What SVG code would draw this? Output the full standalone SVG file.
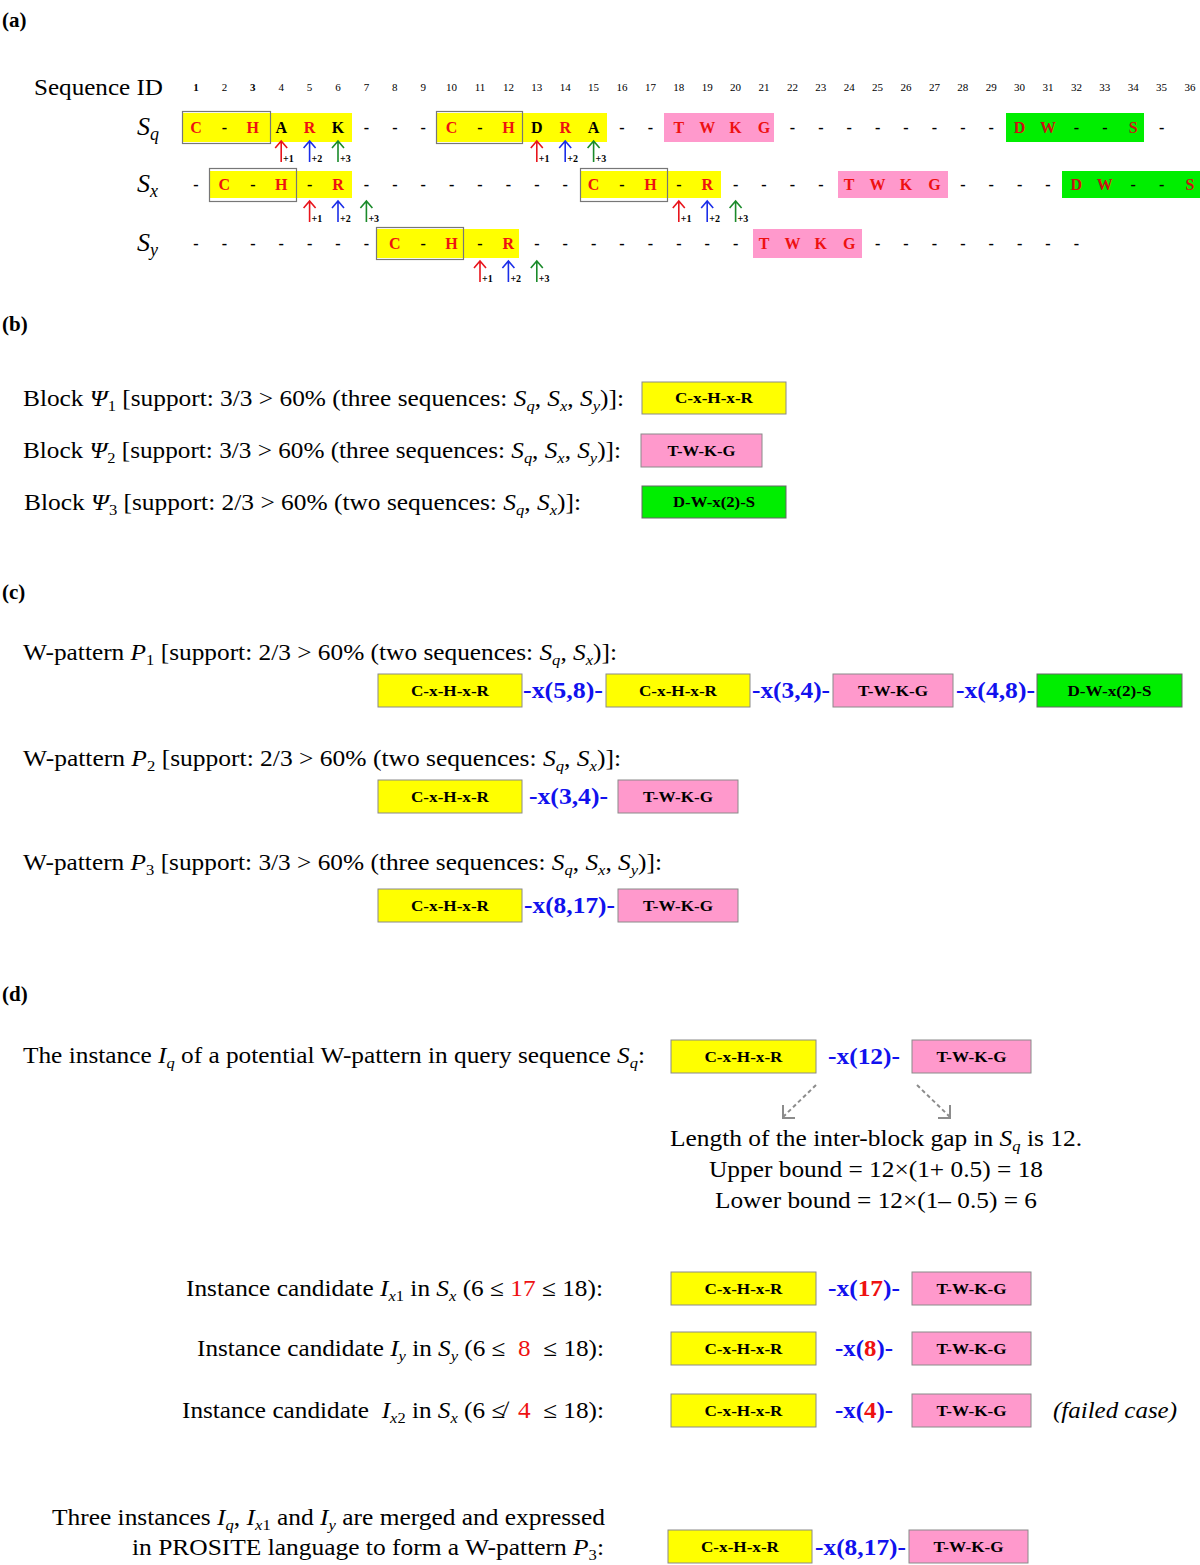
<svg xmlns="http://www.w3.org/2000/svg" xmlns:xlink="http://www.w3.org/1999/xlink" width="1200" height="1565" viewBox="0 0 1200 1565">
<style>
text { font-family: "Liberation Serif", "DejaVu Serif", serif; fill: #000; }
.t { font-size: 23px; }
.sec { font-size: 21px; font-weight: bold; }
.num { font-size: 11px; text-anchor: middle; }
.seq { font-size: 16px; font-weight: bold; text-anchor: middle; }
.red { fill: #ee1111; }
.gred { fill: #cc1111; }
.lab { font-size: 26px; font-style: italic; }
.pl { font-size: 10px; font-weight: bold; }
.bx { font-size: 14px; font-weight: bold; text-anchor: middle; }
.gap { font-size: 24px; font-weight: bold; fill: #1111ee; }
.yb { fill: #ffff00; stroke: #8a8a8a; stroke-width: 1; }
.pb { fill: #ff99cc; stroke: #8a8a8a; stroke-width: 1; }
.gb { fill: #00ee00; stroke: #666; stroke-width: 1; }
.ya { fill: #ffff00; }
.pa { fill: #ff99cc; }
.ga { fill: #00ee00; }
.ol { fill: none; stroke: #777; stroke-width: 1.2; }
.it { font-style: italic; }
</style>
<defs>
<path id="ar" d="M0,0 V-21 M-6,-14 L0,-21 L6,-14" fill="none" stroke-width="1.6"/>
</defs>

<!-- Section labels -->
<text class="sec" x="2" y="27">(a)</text>
<text class="sec" x="2" y="331">(b)</text>
<text class="sec" x="2" y="599">(c)</text>
<text class="sec" x="2" y="1001">(d)</text>

<!-- (a) -->
<g id="seq-header">
<text class="t" x="34" y="95" font-size="24" textLength="129" lengthAdjust="spacingAndGlyphs">Sequence ID</text>
<text class="num" y="91"><tspan x="196" font-weight="bold">1</tspan><tspan x="224.4">2</tspan><tspan x="252.8" font-weight="bold">3</tspan><tspan x="281.2">4</tspan><tspan x="309.6">5</tspan><tspan x="338">6</tspan><tspan x="366.4">7</tspan><tspan x="394.8">8</tspan><tspan x="423.2">9</tspan><tspan x="451.6">10</tspan><tspan x="480">11</tspan><tspan x="508.4">12</tspan><tspan x="536.8">13</tspan><tspan x="565.2">14</tspan><tspan x="593.6">15</tspan><tspan x="622">16</tspan><tspan x="650.4">17</tspan><tspan x="678.8">18</tspan><tspan x="707.2">19</tspan><tspan x="735.6">20</tspan><tspan x="764">21</tspan><tspan x="792.4">22</tspan><tspan x="820.8">23</tspan><tspan x="849.2">24</tspan><tspan x="877.6">25</tspan><tspan x="906">26</tspan><tspan x="934.4">27</tspan><tspan x="962.8">28</tspan><tspan x="991.2">29</tspan><tspan x="1019.6">30</tspan><tspan x="1048">31</tspan><tspan x="1076.4">32</tspan><tspan x="1104.8">33</tspan><tspan x="1133.2">34</tspan><tspan x="1161.6">35</tspan><tspan x="1190">36</tspan></text>
</g>

<g id="row-Sq">
<text class="lab" x="137" y="135">S<tspan dy="5" font-size="18">q</tspan></text>
<rect class="ya" x="183" y="113" width="169" height="29"/>
<rect class="ol" x="182.5" y="111.5" width="88" height="32"/>
<rect class="ya" x="437" y="113" width="170" height="29"/>
<rect class="ol" x="436.5" y="111.5" width="86" height="32"/>
<rect class="pa" x="664" y="113" width="110" height="29"/>
<rect class="ga" x="1006" y="113" width="138" height="29"/>
<text class="seq" y="133"><tspan class="red" x="196">C</tspan><tspan x="224.4">-</tspan><tspan class="red" x="252.8">H</tspan><tspan x="281.2">A</tspan><tspan class="red" x="309.6">R</tspan><tspan x="338 366.4 394.8 423.2">K---</tspan><tspan class="red" x="451.6">C</tspan><tspan x="480">-</tspan><tspan class="red" x="508.4">H</tspan><tspan x="536.8">D</tspan><tspan class="red" x="565.2">R</tspan><tspan x="593.6 622 650.4">A--</tspan><tspan class="red" x="678.8 707.2 735.6 764">TWKG</tspan><tspan x="792.4 820.8 849.2 877.6 906 934.4 962.8 991.2">--------</tspan><tspan class="gred" x="1019.6 1048">DW</tspan><tspan x="1076.4 1104.8">--</tspan><tspan class="gred" x="1133.2">S</tspan><tspan x="1161.6">-</tspan></text>
<use xlink:href="#ar" x="281.2" y="162" stroke="#e8141c"/>
<use xlink:href="#ar" x="309.6" y="162" stroke="#1b2ee8"/>
<use xlink:href="#ar" x="338" y="162" stroke="#1a8a2a"/>
<text class="pl" y="162"><tspan x="283">+1</tspan><tspan x="311.5">+2</tspan><tspan x="340">+3</tspan></text>
<use xlink:href="#ar" x="536.8" y="162" stroke="#e8141c"/>
<use xlink:href="#ar" x="565.2" y="162" stroke="#1b2ee8"/>
<use xlink:href="#ar" x="593.6" y="162" stroke="#1a8a2a"/>
<text class="pl" y="162"><tspan x="538.8">+1</tspan><tspan x="567.2">+2</tspan><tspan x="595.6">+3</tspan></text>
</g>

<g id="row-Sx">
<text class="lab" x="137" y="192">S<tspan dy="5" font-size="18">x</tspan></text>
<rect class="ya" x="210" y="171" width="142" height="27"/>
<rect class="ol" x="209.5" y="168.5" width="87" height="33"/>
<rect class="ya" x="581" y="171" width="140" height="27"/>
<rect class="ol" x="580.5" y="168.5" width="87" height="33"/>
<rect class="pa" x="838" y="171" width="110" height="27"/>
<rect class="ga" x="1062" y="171" width="138" height="27"/>
<text class="seq" y="190"><tspan x="196">-</tspan><tspan class="red" x="224.4">C</tspan><tspan x="252.8">-</tspan><tspan class="red" x="281.2">H</tspan><tspan x="309.6">-</tspan><tspan class="red" x="338">R</tspan><tspan x="366.4 394.8 423.2 451.6 480 508.4 536.8 565.2">--------</tspan><tspan class="red" x="593.6">C</tspan><tspan x="622">-</tspan><tspan class="red" x="650.4">H</tspan><tspan x="678.8">-</tspan><tspan class="red" x="707.2">R</tspan><tspan x="735.6 764 792.4 820.8">----</tspan><tspan class="red" x="849.2 877.6 906 934.4">TWKG</tspan><tspan x="962.8 991.2 1019.6 1048">----</tspan><tspan class="gred" x="1076.4 1104.8">DW</tspan><tspan x="1133.2 1161.6">--</tspan><tspan class="gred" x="1190">S</tspan></text>
<use xlink:href="#ar" x="309.6" y="222" stroke="#e8141c"/>
<use xlink:href="#ar" x="338" y="222" stroke="#1b2ee8"/>
<use xlink:href="#ar" x="366.4" y="222" stroke="#1a8a2a"/>
<text class="pl" y="222"><tspan x="311.6">+1</tspan><tspan x="340">+2</tspan><tspan x="368.4">+3</tspan></text>
<use xlink:href="#ar" x="678.8" y="222" stroke="#e8141c"/>
<use xlink:href="#ar" x="707.2" y="222" stroke="#1b2ee8"/>
<use xlink:href="#ar" x="735.6" y="222" stroke="#1a8a2a"/>
<text class="pl" y="222"><tspan x="680.8">+1</tspan><tspan x="709.2">+2</tspan><tspan x="737.6">+3</tspan></text>
</g>

<g id="row-Sy">
<text class="lab" x="137" y="251">S<tspan dy="5" font-size="18">y</tspan></text>
<rect class="ya" x="377" y="229" width="142" height="29"/>
<rect class="ol" x="376.5" y="227.5" width="87" height="32"/>
<rect class="pa" x="753" y="229" width="109" height="29"/>
<text class="seq" y="249"><tspan x="196 224.4 252.8 281.2 309.6 338 366.4">-------</tspan><tspan class="red" x="394.8">C</tspan><tspan x="423.2">-</tspan><tspan class="red" x="451.6">H</tspan><tspan x="480">-</tspan><tspan class="red" x="508.4">R</tspan><tspan x="536.8 565.2 593.6 622 650.4 678.8 707.2 735.6">--------</tspan><tspan class="red" x="764 792.4 820.8 849.2">TWKG</tspan><tspan x="877.6 906 934.4 962.8 991.2 1019.6 1048 1076.4">--------</tspan></text>
<use xlink:href="#ar" x="480" y="282" stroke="#e8141c"/>
<use xlink:href="#ar" x="508.4" y="282" stroke="#1b2ee8"/>
<use xlink:href="#ar" x="536.8" y="282" stroke="#1a8a2a"/>
<text class="pl" y="282"><tspan x="482">+1</tspan><tspan x="510.4">+2</tspan><tspan x="538.8">+3</tspan></text>
</g>

<!-- (b) -->
<g id="block1">
<text class="t" x="23" y="406" textLength="601" lengthAdjust="spacingAndGlyphs">Block <tspan class="it">Ψ</tspan><tspan dy="5" font-size="15">1</tspan><tspan dy="-5"> [support: 3/3 &gt; 60% (three sequences: </tspan><tspan class="it">S</tspan><tspan dy="5" font-size="15" class="it">q</tspan><tspan dy="-5">, </tspan><tspan class="it">S</tspan><tspan dy="5" font-size="15" class="it">x</tspan><tspan dy="-5">, </tspan><tspan class="it">S</tspan><tspan dy="5" font-size="15" class="it">y</tspan><tspan dy="-5">)]:</tspan></text>
<rect class="yb" x="642" y="382" width="144" height="32"/>
<text class="bx" x="714" y="403" textLength="78" lengthAdjust="spacingAndGlyphs">C-x-H-x-R</text>
</g>
<g id="block2">
<text class="t" x="23" y="458" textLength="598" lengthAdjust="spacingAndGlyphs">Block <tspan class="it">Ψ</tspan><tspan dy="5" font-size="15">2</tspan><tspan dy="-5"> [support: 3/3 &gt; 60% (three sequences: </tspan><tspan class="it">S</tspan><tspan dy="5" font-size="15" class="it">q</tspan><tspan dy="-5">, </tspan><tspan class="it">S</tspan><tspan dy="5" font-size="15" class="it">x</tspan><tspan dy="-5">, </tspan><tspan class="it">S</tspan><tspan dy="5" font-size="15" class="it">y</tspan><tspan dy="-5">)]:</tspan></text>
<rect class="pb" x="641" y="434" width="121" height="33"/>
<text class="bx" x="701.5" y="456" textLength="68" lengthAdjust="spacingAndGlyphs">T-W-K-G</text>
</g>
<g id="block3">
<text class="t" x="24" y="510" textLength="557" lengthAdjust="spacingAndGlyphs">Block <tspan class="it">Ψ</tspan><tspan dy="5" font-size="15">3</tspan><tspan dy="-5"> [support: 2/3 &gt; 60% (two sequences: </tspan><tspan class="it">S</tspan><tspan dy="5" font-size="15" class="it">q</tspan><tspan dy="-5">, </tspan><tspan class="it">S</tspan><tspan dy="5" font-size="15" class="it">x</tspan><tspan dy="-5">)]:</tspan></text>
<rect class="gb" x="642" y="486" width="144" height="32"/>
<text class="bx" x="714" y="507" textLength="82" lengthAdjust="spacingAndGlyphs">D-W-x(2)-S</text>
</g>

<!-- (c) -->
<g id="pattern1">
<text class="t" x="23" y="660" textLength="594" lengthAdjust="spacingAndGlyphs">W-pattern <tspan class="it">P</tspan><tspan dy="5" font-size="15">1</tspan><tspan dy="-5"> [support: 2/3 &gt; 60% (two sequences: </tspan><tspan class="it">S</tspan><tspan dy="5" font-size="15" class="it">q</tspan><tspan dy="-5">, </tspan><tspan class="it">S</tspan><tspan dy="5" font-size="15" class="it">x</tspan><tspan dy="-5">)]:</tspan></text>
<rect class="yb" x="378" y="674" width="144" height="33"/>
<text class="bx" x="450" y="696" textLength="78" lengthAdjust="spacingAndGlyphs">C-x-H-x-R</text>
<text class="gap" x="523" y="698" textLength="80" lengthAdjust="spacingAndGlyphs">-x(5,8)-</text>
<rect class="yb" x="606" y="674" width="144" height="33"/>
<text class="bx" x="678" y="696" textLength="78" lengthAdjust="spacingAndGlyphs">C-x-H-x-R</text>
<text class="gap" x="752" y="698" textLength="78" lengthAdjust="spacingAndGlyphs">-x(3,4)-</text>
<rect class="pb" x="833" y="674" width="120" height="33"/>
<text class="bx" x="893" y="696" textLength="70" lengthAdjust="spacingAndGlyphs">T-W-K-G</text>
<text class="gap" x="956" y="698" textLength="79" lengthAdjust="spacingAndGlyphs">-x(4,8)-</text>
<rect class="gb" x="1037" y="674" width="145" height="33"/>
<text class="bx" x="1109.5" y="696" textLength="84" lengthAdjust="spacingAndGlyphs">D-W-x(2)-S</text>
</g>
<g id="pattern2">
<text class="t" x="23" y="766" textLength="598" lengthAdjust="spacingAndGlyphs">W-pattern <tspan class="it">P</tspan><tspan dy="5" font-size="15">2</tspan><tspan dy="-5"> [support: 2/3 &gt; 60% (two sequences: </tspan><tspan class="it">S</tspan><tspan dy="5" font-size="15" class="it">q</tspan><tspan dy="-5">, </tspan><tspan class="it">S</tspan><tspan dy="5" font-size="15" class="it">x</tspan><tspan dy="-5">)]:</tspan></text>
<rect class="yb" x="378" y="780" width="144" height="33"/>
<text class="bx" x="450" y="802" textLength="78" lengthAdjust="spacingAndGlyphs">C-x-H-x-R</text>
<text class="gap" x="529" y="804" textLength="79" lengthAdjust="spacingAndGlyphs">-x(3,4)-</text>
<rect class="pb" x="618" y="780" width="120" height="33"/>
<text class="bx" x="678" y="802" textLength="70" lengthAdjust="spacingAndGlyphs">T-W-K-G</text>
</g>
<g id="pattern3">
<text class="t" x="23" y="870" textLength="639" lengthAdjust="spacingAndGlyphs">W-pattern <tspan class="it">P</tspan><tspan dy="5" font-size="15">3</tspan><tspan dy="-5"> [support: 3/3 &gt; 60% (three sequences: </tspan><tspan class="it">S</tspan><tspan dy="5" font-size="15" class="it">q</tspan><tspan dy="-5">, </tspan><tspan class="it">S</tspan><tspan dy="5" font-size="15" class="it">x</tspan><tspan dy="-5">, </tspan><tspan class="it">S</tspan><tspan dy="5" font-size="15" class="it">y</tspan><tspan dy="-5">)]:</tspan></text>
<rect class="yb" x="378" y="889" width="144" height="33"/>
<text class="bx" x="450" y="911" textLength="78" lengthAdjust="spacingAndGlyphs">C-x-H-x-R</text>
<text class="gap" x="524" y="913" textLength="91" lengthAdjust="spacingAndGlyphs">-x(8,17)-</text>
<rect class="pb" x="618" y="889" width="120" height="33"/>
<text class="bx" x="678" y="911" textLength="70" lengthAdjust="spacingAndGlyphs">T-W-K-G</text>
</g>

<!-- (d) -->
<g id="instance-q">
<text class="t" x="23" y="1063" textLength="622" lengthAdjust="spacingAndGlyphs">The instance <tspan class="it">I</tspan><tspan dy="5" font-size="15" class="it">q</tspan><tspan dy="-5"> of a potential W-pattern in query sequence </tspan><tspan class="it">S</tspan><tspan dy="5" font-size="15" class="it">q</tspan><tspan dy="-5">:</tspan></text>
<rect class="yb" x="671" y="1040" width="145" height="33"/>
<text class="bx" x="743.5" y="1062" textLength="78" lengthAdjust="spacingAndGlyphs">C-x-H-x-R</text>
<text class="gap" x="828" y="1064" textLength="72" lengthAdjust="spacingAndGlyphs">-x(12)-</text>
<rect class="pb" x="912" y="1040" width="119" height="33"/>
<text class="bx" x="971.5" y="1062" textLength="70" lengthAdjust="spacingAndGlyphs">T-W-K-G</text>
</g>

<g id="connectors" fill="none" stroke="#8c8c8c" stroke-width="2" stroke-dasharray="4,3">
<line x1="816" y1="1085" x2="783" y2="1117"/>
<polyline points="783,1105 783,1118 795,1118" stroke-dasharray="none"/>
<line x1="917" y1="1085" x2="950" y2="1117"/>
<polyline points="950,1105 950,1118 938,1118" stroke-dasharray="none"/>
</g>

<g id="bounds">
<text class="t" x="670" y="1146" textLength="412" lengthAdjust="spacingAndGlyphs">Length of the inter-block gap in <tspan class="it">S</tspan><tspan dy="5" font-size="15" class="it">q</tspan><tspan dy="-5"> is 12.</tspan></text>
<text class="t" x="709" y="1177" textLength="334" lengthAdjust="spacingAndGlyphs">Upper bound = 12×(1+ 0.5) = 18</text>
<text class="t" x="715" y="1208" textLength="322" lengthAdjust="spacingAndGlyphs">Lower bound = 12×(1– 0.5) = 6</text>
</g>

<g id="candidate-x1">
<text class="t" x="186" y="1296" textLength="417" lengthAdjust="spacingAndGlyphs">Instance candidate <tspan class="it">I</tspan><tspan dy="5" font-size="15"><tspan class="it">x</tspan>1</tspan><tspan dy="-5"> in </tspan><tspan class="it">S</tspan><tspan dy="5" font-size="15" class="it">x</tspan><tspan dy="-5"> (6 ≤ </tspan><tspan class="red">17</tspan> ≤ 18):</text>
<rect class="yb" x="671" y="1272" width="145" height="33"/>
<text class="bx" x="743.5" y="1294" textLength="78" lengthAdjust="spacingAndGlyphs">C-x-H-x-R</text>
<text class="gap" x="828" y="1296" textLength="72" lengthAdjust="spacingAndGlyphs">-x(<tspan class="red">17</tspan>)-</text>
<rect class="pb" x="912" y="1272" width="119" height="33"/>
<text class="bx" x="971.5" y="1294" textLength="70" lengthAdjust="spacingAndGlyphs">T-W-K-G</text>
</g>

<g id="candidate-y">
<text class="t" x="197" y="1356" textLength="407" lengthAdjust="spacingAndGlyphs">Instance candidate <tspan class="it">I</tspan><tspan dy="5" font-size="15" class="it">y</tspan><tspan dy="-5"> in </tspan><tspan class="it">S</tspan><tspan dy="5" font-size="15" class="it">y</tspan><tspan dy="-5"> (6 ≤&#160;&#160;</tspan><tspan class="red">8</tspan>&#160;&#160;≤ 18):</text>
<rect class="yb" x="671" y="1332" width="145" height="33"/>
<text class="bx" x="743.5" y="1354" textLength="78" lengthAdjust="spacingAndGlyphs">C-x-H-x-R</text>
<text class="gap" x="835" y="1356" textLength="58" lengthAdjust="spacingAndGlyphs">-x(<tspan class="red">8</tspan>)-</text>
<rect class="pb" x="912" y="1332" width="119" height="33"/>
<text class="bx" x="971.5" y="1354" textLength="70" lengthAdjust="spacingAndGlyphs">T-W-K-G</text>
</g>

<g id="candidate-x2">
<text class="t" x="182" y="1418" textLength="422" lengthAdjust="spacingAndGlyphs">Instance candidate&#160; <tspan class="it">I</tspan><tspan dy="5" font-size="15"><tspan class="it">x</tspan>2</tspan><tspan dy="-5"> in </tspan><tspan class="it">S</tspan><tspan dy="5" font-size="15" class="it">x</tspan><tspan dy="-5"> (6 ≰&#160;&#160;</tspan><tspan class="red">4</tspan>&#160;&#160;≤ 18):</text>
<rect class="yb" x="671" y="1394" width="145" height="33"/>
<text class="bx" x="743.5" y="1416" textLength="78" lengthAdjust="spacingAndGlyphs">C-x-H-x-R</text>
<text class="gap" x="835" y="1418" textLength="58" lengthAdjust="spacingAndGlyphs">-x(<tspan class="red">4</tspan>)-</text>
<rect class="pb" x="912" y="1394" width="119" height="33"/>
<text class="bx" x="971.5" y="1416" textLength="70" lengthAdjust="spacingAndGlyphs">T-W-K-G</text>
<text class="t it" x="1053" y="1418" textLength="124" lengthAdjust="spacingAndGlyphs">(failed case)</text>
</g>

<g id="merged">
<text class="t" x="52" y="1525" textLength="553" lengthAdjust="spacingAndGlyphs">Three instances <tspan class="it">I</tspan><tspan dy="5" font-size="15" class="it">q</tspan><tspan dy="-5">, </tspan><tspan class="it">I</tspan><tspan dy="5" font-size="15"><tspan class="it">x</tspan>1</tspan><tspan dy="-5"> and </tspan><tspan class="it">I</tspan><tspan dy="5" font-size="15" class="it">y</tspan><tspan dy="-5"> are merged and expressed</tspan></text>
<text class="t" x="132" y="1555" textLength="472" lengthAdjust="spacingAndGlyphs">in PROSITE language to form a W-pattern <tspan class="it">P</tspan><tspan dy="5" font-size="15">3</tspan><tspan dy="-5">:</tspan></text>
<rect class="yb" x="668" y="1530" width="144" height="33"/>
<text class="bx" x="740" y="1552" textLength="78" lengthAdjust="spacingAndGlyphs">C-x-H-x-R</text>
<text class="gap" x="815" y="1555" textLength="91" lengthAdjust="spacingAndGlyphs">-x(8,17)-</text>
<rect class="pb" x="909" y="1530" width="119" height="33"/>
<text class="bx" x="968.5" y="1552" textLength="70" lengthAdjust="spacingAndGlyphs">T-W-K-G</text>
</g>
</svg>
